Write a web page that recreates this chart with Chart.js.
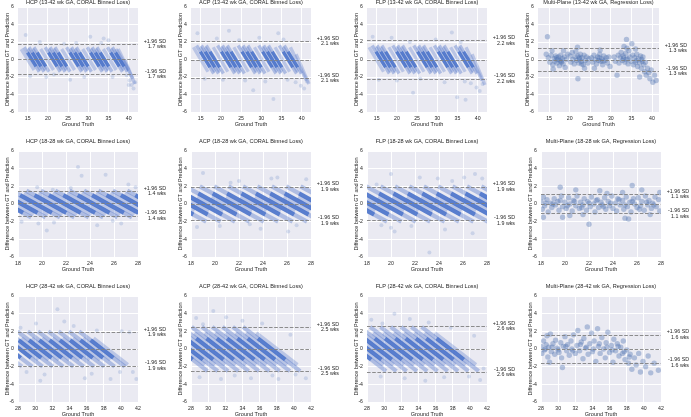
<!DOCTYPE html>
<html>
<head>
<meta charset="utf-8">
<script src="https://cdn.jsdelivr.net/npm/chart.js@4.4.1/dist/chart.umd.min.js"></script>
<style>
  html, body { margin: 0; padding: 0; background: #fff; }
  #fig { position: relative; width: 691px; height: 417px; overflow: hidden; }
  #fig canvas { position: absolute; }
</style>
</head>
<body>
<div id="fig"></div>
<script>
// ---- axis ticks ----
const yTicks = [-6, -4, -2, 0, 2, 4, 6];
const xTicksFull = [15, 20, 25, 30, 35, 40];
const xTicksMid = [18, 20, 22, 24, 26, 28];
const xTicksLate = [28, 30, 32, 34, 36, 38, 40, 42];

// ---- panel labels and limits of agreement ----
const planes = ['HCP', 'ACP', 'FLP', 'Multi-Plane'];
const gaRanges = ['13-42', '18-28', '28-42'];
const sdWks = [[1.7, 2.1, 2.2, 1.3], [1.4, 1.9, 1.9, 1.1], [1.9, 2.5, 2.6, 1.6]];
const meanDiff = [[0.05, 0, 0, 0], [0.07, 0.05, 0.06, 0.03], [0.03, 0, 0, 0.04]];
const xLimits = [
  [[12.6, 42.3], [12.6, 42.3], [12.6, 42.3], [12.3, 41.7]],
  [[18, 28], [18, 28], [18, 28], [18, 28]],
  [[28, 42], [28, 42], [28, 42], [28, 42]]
];

// ---- CORAL panels: dense diagonal bands of (GT, diff) points, read as runs of points ----
// 13-42 wk
const hcpFullDense = [
  [[14.13,1.4],[14.93,0.8],[17.07,-0.8],[17.87,-1.4]],
  [[15.33,1.4],[16.13,0.8],[18.27,-0.8],[19.07,-1.4]],
  [[16.53,1.4],[17.33,0.8],[19.47,-0.8],[20.27,-1.4]],
  [[19.33,1.4],[20.13,0.8],[22.27,-0.8],[23.07,-1.4]],
  [[20.53,1.4],[21.33,0.8],[23.47,-0.8],[24.27,-1.4]],
  [[21.73,1.4],[22.53,0.8],[24.67,-0.8],[25.47,-1.4]],
  [[24.63,1.4],[25.43,0.8],[27.57,-0.8],[28.37,-1.4]],
  [[25.83,1.4],[26.63,0.8],[28.77,-0.8],[29.57,-1.4]],
  [[27.03,1.4],[27.83,0.8],[29.97,-0.8],[30.77,-1.4]],
  [[29.73,1.4],[30.53,0.8],[32.67,-0.8],[33.47,-1.4]],
  [[30.93,1.4],[31.73,0.8],[33.87,-0.8],[34.67,-1.4]],
  [[32.13,1.4],[32.93,0.8],[35.07,-0.8],[35.87,-1.4]],
  [[34.73,1.4],[35.53,0.8],[37.67,-0.8],[38.47,-1.4]],
  [[35.93,1.4],[36.73,0.8],[38.87,-0.8],[39.67,-1.4]]
];
const hcpFullLight = [
  [[13.4,1.2],[16.6,-1.2]], [[15.0,1.2],[18.2,-1.2]], [[16.2,1.2],[19.4,-1.2]],
  [[18.2,1.2],[21.4,-1.2]], [[20.2,1.2],[23.4,-1.2]], [[21.4,1.2],[24.6,-1.2]],
  [[23.4,1.2],[26.6,-1.2]], [[25.5,1.2],[28.7,-1.2]], [[26.7,1.2],[29.9,-1.2]],
  [[28.6,1.2],[31.8,-1.2]], [[30.6,1.2],[33.8,-1.2]], [[31.8,1.2],[35.0,-1.2]],
  [[33.7,1.2],[36.9,-1.2]], [[35.6,1.2],[38.8,-1.2]], [[36.8,1.2],[40.0,-1.2]],
  [[37.4,1.2],[41.0,-2.2]], [[39.0,0.0],[41.5,-2.8]]
];
const hcpFullPts = [
  [14.5,2.8],[15.6,-1.9],[18.0,2.0],[19.6,-2.0],[24.0,1.8],[21.5,-1.7],[27.0,1.9],[29.0,-2.0],
  [33.8,2.4],[35.0,2.2],[33.2,1.9],[36.0,-2.0],[39.5,-1.8],[40.2,-2.4],[40.7,-2.9],[41.2,-3.3],
  [40.0,-2.9],[41.6,-2.6],[30.5,2.6],[25.5,-2.3]
];

const acpFullDense = [
  [[13.97,1.6],[14.9,0.9],[17.3,-0.9],[18.23,-1.6]],
  [[15.17,1.6],[16.1,0.9],[18.5,-0.9],[19.43,-1.6]],
  [[16.37,1.6],[17.3,0.9],[19.7,-0.9],[20.63,-1.6]],
  [[19.17,1.6],[20.1,0.9],[22.5,-0.9],[23.43,-1.6]],
  [[20.37,1.6],[21.3,0.9],[23.7,-0.9],[24.63,-1.6]],
  [[21.57,1.6],[22.5,0.9],[24.9,-0.9],[25.83,-1.6]],
  [[24.27,1.6],[25.2,0.9],[27.6,-0.9],[28.53,-1.6]],
  [[25.47,1.6],[26.4,0.9],[28.8,-0.9],[29.73,-1.6]],
  [[26.67,1.6],[27.6,0.9],[30.0,-0.9],[30.93,-1.6]],
  [[29.37,1.6],[30.3,0.9],[32.7,-0.9],[33.63,-1.6]],
  [[30.57,1.6],[31.5,0.9],[33.9,-0.9],[34.83,-1.6]],
  [[31.77,1.6],[32.7,0.9],[35.1,-0.9],[36.03,-1.6]],
  [[34.47,1.6],[35.4,0.9],[37.8,-0.9],[38.73,-1.6]],
  [[35.67,1.6],[36.6,0.9],[39.0,-0.9],[39.93,-1.6]]
];
const acpFullLight = [
  [[13.2,1.4],[16.8,-1.4]], [[14.9,1.4],[18.5,-1.4]], [[16.1,1.4],[19.7,-1.4]],
  [[18.1,1.4],[21.7,-1.4]], [[20.1,1.4],[23.7,-1.4]], [[21.3,1.4],[24.9,-1.4]],
  [[23.2,1.4],[26.8,-1.4]], [[25.2,1.4],[28.8,-1.4]], [[26.4,1.4],[30.0,-1.4]],
  [[28.3,1.4],[31.9,-1.4]], [[30.3,1.4],[33.9,-1.4]], [[31.5,1.4],[35.1,-1.4]],
  [[33.4,1.4],[37.0,-1.4]], [[35.4,1.4],[39.0,-1.4]], [[37.2,1.4],[41.2,-2.4]],
  [[38.6,0.6],[41.8,-2.8]]
];
const acpFullPts = [
  [14.2,3.0],[16.0,-2.2],[19.0,2.4],[20.5,-2.3],[24.5,2.2],[26.0,-2.4],[29.5,2.5],[31.0,-2.5],
  [34.2,3.0],[35.5,2.3],[36.5,-2.3],[38.5,-2.6],[39.8,-3.0],[40.6,-3.3],[41.3,-2.5],[33.0,-4.5],
  [22.0,3.3],[28.0,-3.5]
];

const flpFullDense = [
  [[13.87,1.6],[14.8,0.9],[17.2,-0.9],[18.13,-1.6]],
  [[15.07,1.6],[16.0,0.9],[18.4,-0.9],[19.33,-1.6]],
  [[16.27,1.6],[17.2,0.9],[19.6,-0.9],[20.53,-1.6]],
  [[18.97,1.6],[19.9,0.9],[22.3,-0.9],[23.23,-1.6]],
  [[20.17,1.6],[21.1,0.9],[23.5,-0.9],[24.43,-1.6]],
  [[21.37,1.6],[22.3,0.9],[24.7,-0.9],[25.63,-1.6]],
  [[24.17,1.6],[25.1,0.9],[27.5,-0.9],[28.43,-1.6]],
  [[25.37,1.6],[26.3,0.9],[28.7,-0.9],[29.63,-1.6]],
  [[26.57,1.6],[27.5,0.9],[29.9,-0.9],[30.83,-1.6]],
  [[29.27,1.6],[30.2,0.9],[32.6,-0.9],[33.53,-1.6]],
  [[30.47,1.6],[31.4,0.9],[33.8,-0.9],[34.73,-1.6]],
  [[31.67,1.6],[32.6,0.9],[35.0,-0.9],[35.93,-1.6]],
  [[34.37,1.6],[35.3,0.9],[37.7,-0.9],[38.63,-1.6]],
  [[35.57,1.6],[36.5,0.9],[38.9,-0.9],[39.83,-1.6]]
];
const flpFullLight = [
  [[13.1,1.4],[16.7,-1.4]], [[14.8,1.4],[18.4,-1.4]], [[16.0,1.4],[19.6,-1.4]],
  [[18.0,1.4],[21.6,-1.4]], [[19.9,1.4],[23.5,-1.4]], [[21.1,1.4],[24.7,-1.4]],
  [[23.1,1.4],[26.7,-1.4]], [[25.1,1.4],[28.7,-1.4]], [[26.3,1.4],[29.9,-1.4]],
  [[28.2,1.4],[31.8,-1.4]], [[30.2,1.4],[33.8,-1.4]], [[31.4,1.4],[35.0,-1.4]],
  [[33.3,1.4],[36.9,-1.4]], [[35.3,1.4],[38.9,-1.4]], [[37.1,1.4],[41.1,-2.4]],
  [[38.6,0.6],[41.8,-2.9]]
];
const flpFullPts = [
  [14.0,2.6],[15.5,-2.3],[18.7,2.5],[20.0,-2.4],[23.2,2.0],[25.8,-2.2],[29.6,2.3],[31.8,-2.6],
  [33.6,3.1],[35.8,2.0],[36.8,-2.5],[38.3,-2.7],[39.7,-3.2],[40.5,-3.6],[41.2,-2.8],[34.9,-4.3],
  [24.0,-3.8],[37.0,-4.6]
];

// 18-28 wk
const hcpMidDense = [
  [[15.1,1.5],[15.77,1.0],[18.43,-1.0],[19.1,-1.5]],
  [[16.3,1.5],[16.97,1.0],[19.63,-1.0],[20.3,-1.5]],
  [[17.5,1.5],[18.17,1.0],[20.83,-1.0],[21.5,-1.5]],
  [[18.7,1.5],[19.37,1.0],[22.03,-1.0],[22.7,-1.5]],
  [[19.9,1.5],[20.57,1.0],[23.23,-1.0],[23.9,-1.5]],
  [[21.1,1.5],[21.77,1.0],[24.43,-1.0],[25.1,-1.5]],
  [[22.3,1.5],[22.97,1.0],[25.63,-1.0],[26.3,-1.5]],
  [[23.5,1.5],[24.17,1.0],[26.83,-1.0],[27.5,-1.5]],
  [[24.7,1.5],[25.37,1.0],[28.03,-1.0],[28.7,-1.5]],
  [[25.9,1.5],[26.57,1.0],[29.23,-1.0],[29.9,-1.5]],
  [[27.1,1.5],[27.77,1.0],[30.43,-1.0],[31.1,-1.5]]
];
const hcpMidLight = [
  [[16.1,1.2],[19.3,-1.2]], [[17.3,1.2],[20.5,-1.2]], [[18.5,1.2],[21.7,-1.2]],
  [[19.7,1.2],[22.9,-1.2]], [[20.9,1.2],[24.1,-1.2]], [[22.1,1.2],[25.3,-1.2]],
  [[23.3,1.2],[26.5,-1.2]], [[24.5,1.2],[27.7,-1.2]], [[25.7,1.2],[28.9,-1.2]],
  [[26.9,1.2],[30.1,-1.2]]
];
const hcpMidPts = [
  [19.6,1.9],[20.9,1.6],[23.3,3.2],[25.3,3.3],[23.0,4.2],[27.2,2.2],[21.0,-2.1],[26.6,-2.2],
  [18.3,-2.0],[24.6,-2.4],[19.7,-2.2],[22.4,1.8],[25.9,-1.9],[27.8,1.9],[20.4,-3.0]
];

const acpMidDense = [
  [[13.93,2.0],[15.0,1.2],[18.2,-1.2],[19.27,-2.0]],
  [[15.13,2.0],[16.2,1.2],[19.4,-1.2],[20.47,-2.0]],
  [[16.33,2.0],[17.4,1.2],[20.6,-1.2],[21.67,-2.0]],
  [[17.53,2.0],[18.6,1.2],[21.8,-1.2],[22.87,-2.0]],
  [[18.73,2.0],[19.8,1.2],[23.0,-1.2],[24.07,-2.0]],
  [[19.93,2.0],[21.0,1.2],[24.2,-1.2],[25.27,-2.0]],
  [[21.13,2.0],[22.2,1.2],[25.4,-1.2],[26.47,-2.0]],
  [[22.33,2.0],[23.4,1.2],[26.6,-1.2],[27.67,-2.0]],
  [[23.53,2.0],[24.6,1.2],[27.8,-1.2],[28.87,-2.0]],
  [[24.73,2.0],[25.8,1.2],[29.0,-1.2],[30.07,-2.0]],
  [[25.93,2.0],[27.0,1.2],[30.2,-1.2],[31.27,-2.0]],
  [[27.13,2.0],[28.2,1.2],[31.4,-1.2],[32.47,-2.0]]
];
const acpMidLight = [
  [[16.13,0.8],[18.27,-0.8]], [[17.33,0.8],[19.47,-0.8]], [[18.53,0.8],[20.67,-0.8]],
  [[19.73,0.8],[21.87,-0.8]], [[20.93,0.8],[23.07,-0.8]], [[22.13,0.8],[24.27,-0.8]],
  [[23.33,0.8],[25.47,-0.8]], [[24.53,0.8],[26.67,-0.8]], [[25.73,0.8],[27.87,-0.8]],
  [[26.93,0.8],[29.07,-0.8]], [[28.13,0.8],[30.27,-0.8]]
];
const acpMidPts = [
  [19.0,3.5],[20.4,-2.5],[22.0,2.6],[23.8,-2.8],[25.2,3.0],[26.8,-2.4],[27.6,2.8],[18.5,-2.6],
  [21.3,2.4],[24.7,2.9],[26.1,-3.1],[22.9,-2.3]
];

const flpMidDense = [
  [[14.33,2.0],[15.4,1.2],[18.6,-1.2],[19.67,-2.0]],
  [[15.53,2.0],[16.6,1.2],[19.8,-1.2],[20.87,-2.0]],
  [[16.73,2.0],[17.8,1.2],[21.0,-1.2],[22.07,-2.0]],
  [[17.93,2.0],[19.0,1.2],[22.2,-1.2],[23.27,-2.0]],
  [[19.13,2.0],[20.2,1.2],[23.4,-1.2],[24.47,-2.0]],
  [[20.33,2.0],[21.4,1.2],[24.6,-1.2],[25.67,-2.0]],
  [[21.53,2.0],[22.6,1.2],[25.8,-1.2],[26.87,-2.0]],
  [[22.73,2.0],[23.8,1.2],[27.0,-1.2],[28.07,-2.0]],
  [[23.93,2.0],[25.0,1.2],[28.2,-1.2],[29.27,-2.0]],
  [[25.13,2.0],[26.2,1.2],[29.4,-1.2],[30.47,-2.0]],
  [[26.33,2.0],[27.4,1.2],[30.6,-1.2],[31.67,-2.0]],
  [[27.53,2.0],[28.6,1.2],[31.8,-1.2],[32.87,-2.0]]
];
const flpMidLight = [
  [[16.53,0.8],[18.67,-0.8]], [[17.73,0.8],[19.87,-0.8]], [[18.93,0.8],[21.07,-0.8]],
  [[20.13,0.8],[22.27,-0.8]], [[21.33,0.8],[23.47,-0.8]], [[22.53,0.8],[24.67,-0.8]],
  [[23.73,0.8],[25.87,-0.8]], [[24.93,0.8],[27.07,-0.8]], [[26.13,0.8],[28.27,-0.8]],
  [[27.33,0.8],[29.47,-0.8]]
];
const flpMidPts = [
  [20.0,3.4],[22.4,3.0],[23.9,2.9],[26.1,3.0],[27.0,3.4],[27.6,2.9],[19.2,-2.4],[20.3,-3.1],
  [20.0,-2.7],[24.5,-2.9],[26.8,-3.3],[23.2,-5.5],[21.7,-2.5],[18.8,2.2],[25.1,2.6]
];

// 28-42 wk
const hcpLateDense = [
  [[24.33,2.0],[25.67,1.0],[28.33,-1.0],[29.67,-2.0]],
  [[25.53,2.0],[26.87,1.0],[29.53,-1.0],[30.87,-2.0]],
  [[26.73,2.0],[28.07,1.0],[30.73,-1.0],[32.07,-2.0]],
  [[27.93,2.0],[29.27,1.0],[31.93,-1.0],[33.27,-2.0]],
  [[29.13,2.0],[30.47,1.0],[33.13,-1.0],[34.47,-2.0]],
  [[30.33,2.0],[31.67,1.0],[34.33,-1.0],[35.67,-2.0]],
  [[31.53,2.0],[32.87,1.0],[35.53,-1.0],[36.87,-2.0]],
  [[32.73,2.0],[34.07,1.0],[36.73,-1.0],[38.07,-2.0]],
  [[33.93,2.0],[35.27,1.0],[37.93,-1.0],[39.27,-2.0]],
  [[35.13,2.0],[36.47,1.0],[39.13,-1.0],[40.47,-2.0]]
];
const hcpLateLight = [
  [[23.13,2.0],[28.47,-2.0]], [[27.2,1.2],[30.4,-1.2]], [[28.4,1.2],[31.6,-1.2]],
  [[29.6,1.2],[32.8,-1.2]], [[30.8,1.2],[34.0,-1.2]], [[32.0,1.2],[35.2,-1.2]],
  [[33.2,1.2],[36.4,-1.2]], [[34.4,1.2],[37.6,-1.2]], [[35.6,1.2],[38.8,-1.2]],
  [[36.8,1.2],[40.8,-1.8]]
];
const hcpLatePts = [
  [28.3,2.4],[29.0,-2.6],[30.1,2.9],[31.1,-2.9],[32.6,4.5],[33.4,3.1],[34.5,2.6],[35.8,-3.3],
  [36.6,-2.8],[38.8,-3.4],[40.1,2.0],[41.0,1.9],[41.4,-2.6],[41.8,-3.4],[39.9,-2.6],[37.2,2.1],
  [30.6,-3.6]
];

const acpLateDense = [
  [[23.27,2.5],[25.0,1.2],[28.2,-1.2],[29.93,-2.5]],
  [[24.47,2.5],[26.2,1.2],[29.4,-1.2],[31.13,-2.5]],
  [[25.67,2.5],[27.4,1.2],[30.6,-1.2],[32.33,-2.5]],
  [[26.87,2.5],[28.6,1.2],[31.8,-1.2],[33.53,-2.5]],
  [[28.07,2.5],[29.8,1.2],[33.0,-1.2],[34.73,-2.5]],
  [[29.27,2.5],[31.0,1.2],[34.2,-1.2],[35.93,-2.5]],
  [[30.47,2.5],[32.2,1.2],[35.4,-1.2],[37.13,-2.5]],
  [[31.67,2.5],[33.4,1.2],[36.6,-1.2],[38.33,-2.5]],
  [[32.87,2.5],[34.6,1.2],[37.8,-1.2],[39.53,-2.5]],
  [[34.07,2.5],[35.8,1.2],[39.0,-1.2],[40.73,-2.5]]
];
const acpLateLight = [
  [[24.8,1.8],[29.6,-1.8]], [[26.0,1.8],[30.8,-1.8]], [[27.2,1.8],[32.0,-1.8]],
  [[28.4,1.8],[33.2,-1.8]], [[29.6,1.8],[34.4,-1.8]], [[30.8,1.8],[35.6,-1.8]],
  [[32.0,1.8],[36.8,-1.8]], [[33.2,1.8],[38.0,-1.8]], [[34.4,1.8],[39.2,-1.8]],
  [[35.6,1.8],[40.4,-1.8]]
];
const acpLatePts = [
  [28.6,3.5],[29.4,2.8],[30.6,4.3],[32.1,3.6],[34.0,3.2],[36.3,2.9],[29.0,-3.2],[31.5,-3.4],
  [35.0,-3.3],[38.2,-3.4],[40.2,-2.9],[41.4,-3.3],[39.6,1.6],[37.5,-3.0],[33.1,-3.0]
];

const flpLateDense = [
  [[23.57,2.5],[25.3,1.2],[28.5,-1.2],[30.23,-2.5]],
  [[24.77,2.5],[26.5,1.2],[29.7,-1.2],[31.43,-2.5]],
  [[25.97,2.5],[27.7,1.2],[30.9,-1.2],[32.63,-2.5]],
  [[27.17,2.5],[28.9,1.2],[32.1,-1.2],[33.83,-2.5]],
  [[28.37,2.5],[30.1,1.2],[33.3,-1.2],[35.03,-2.5]],
  [[29.57,2.5],[31.3,1.2],[34.5,-1.2],[36.23,-2.5]],
  [[30.77,2.5],[32.5,1.2],[35.7,-1.2],[37.43,-2.5]],
  [[31.97,2.5],[33.7,1.2],[36.9,-1.2],[38.63,-2.5]],
  [[33.17,2.5],[34.9,1.2],[38.1,-1.2],[39.83,-2.5]],
  [[34.37,2.5],[36.1,1.2],[39.3,-1.2],[41.03,-2.5]]
];
const flpLateLight = [
  [[25.1,1.8],[29.9,-1.8]], [[26.3,1.8],[31.1,-1.8]], [[27.5,1.8],[32.3,-1.8]],
  [[28.7,1.8],[33.5,-1.8]], [[29.9,1.8],[34.7,-1.8]], [[31.1,1.8],[35.9,-1.8]],
  [[32.3,1.8],[37.1,-1.8]], [[33.5,1.8],[38.3,-1.8]], [[34.7,1.8],[39.5,-1.8]],
  [[35.9,1.8],[40.7,-1.8]]
];
const flpLatePts = [
  [28.5,3.3],[29.8,2.9],[31.2,4.0],[33.0,3.4],[35.2,3.0],[37.8,2.4],[29.6,-3.1],[32.4,-3.3],
  [34.8,-3.6],[37.0,-3.2],[39.9,-3.1],[41.2,-3.5],[40.5,1.5],[41.6,-2.2]
];

// ---- Multi-Plane (regression) panels: scattered points ----
const mpFullPts = [
  [14.3,0.6],[14.6,2.6],[14.8,0.2],[15.2,-0.3],[15.5,0.5],[15.7,1.0],[15.9,-0.6],[16.2,0.1],
  [16.4,-0.2],[16.6,0.4],[16.9,-0.4],[17.1,0.0],[17.3,0.3],[17.5,-0.7],[17.6,-0.1],[17.8,0.5],
  [18.0,-0.3],[18.2,0.1],[18.4,-0.5],[18.7,0.3],[18.9,-0.9],[19.2,0.0],[19.5,0.6],[16.0,-1.1],
  [18.5,1.0],[20.1,0.4],[20.3,-0.3],[20.6,0.8],[20.8,0.0],[21.1,-0.5],[21.3,0.3],[21.5,0.9],
  [21.7,-0.1],[22.0,0.4],[22.2,-0.4],[22.4,0.1],[22.6,0.6],[22.8,-0.2],[23.0,0.2],[23.3,-0.6],
  [23.5,0.5],[23.8,-0.1],[24.1,0.3],[24.4,-0.4],[24.7,0.1],[22.0,-2.2],[21.9,1.4],[23.6,-1.0],
  [25.3,0.2],[25.6,-0.3],[25.9,0.5],[26.2,0.0],[26.5,-0.5],[26.8,0.3],[27.0,-0.1],[27.3,0.6],
  [27.5,-0.2],[27.8,0.1],[28.0,-0.6],[28.3,0.4],[28.6,-0.1],[28.9,0.2],[29.2,-0.4],[29.5,0.3],
  [29.8,-0.8],[27.4,1.1],[26.0,-1.0],[30.8,0.3],[31.1,-0.2],[31.5,-1.8],[31.8,0.5],[32.0,-0.4],
  [32.3,0.2],[32.5,0.8],[32.8,-0.1],[33.0,0.4],[33.2,1.5],[33.4,-0.3],[33.6,0.7],[33.8,2.3],
  [34.0,0.1],[34.2,-0.5],[34.4,1.0],[34.6,0.3],[34.9,-0.2],[35.1,1.8],[35.3,0.5],[35.5,-0.6],
  [33.9,1.3],[35.8,0.2],[36.0,-0.3],[36.3,0.6],[36.5,-0.8],[36.7,0.1],[37.0,-0.4],[37.2,0.4],
  [37.4,-1.0],[37.6,-0.2],[37.8,0.3],[38.0,-0.6],[38.2,-1.4],[38.4,-0.3],[38.6,-1.8],[38.9,-1.0],
  [39.2,-1.5],[39.5,-2.2],[39.8,-1.2],[40.2,-2.6],[40.6,-1.8],[41.0,-2.4],[37.0,-2.0],[36.0,1.2],
  [16.8,0.2],[17.9,-0.2],[22.3,0.2],[22.9,-0.5],[27.2,0.2],[28.1,-0.2],[33.1,0.2],[33.7,0.0],
  [37.5,0.0],[36.2,-0.1]
];
const mpMidPts = [
  [18.0,0.3],[18.1,-0.6],[18.2,0.8],[18.3,-0.2],[18.5,0.5],[18.6,-0.9],[18.8,0.1],[18.9,-0.4],
  [19.1,0.6],[19.2,-0.1],[19.4,0.3],[19.5,-0.7],[19.7,0.9],[19.8,-0.3],[20.0,0.2],[20.1,-0.5],
  [20.3,0.7],[20.4,0.0],[20.6,-0.8],[20.7,0.4],[20.9,-0.2],[21.0,0.9],[21.2,-0.5],[21.3,0.2],
  [21.5,-0.1],[21.6,0.6],[21.8,-0.7],[21.9,0.3],[22.1,-0.3],[22.2,0.8],[22.4,0.0],[22.5,-0.9],
  [22.7,0.5],[22.8,-0.4],[23.0,0.2],[23.1,-0.1],[23.3,0.7],[23.4,-0.6],[23.6,0.3],[23.7,-0.2],
  [23.9,0.9],[24.0,-0.5],[24.2,0.1],[24.3,-0.8],[24.5,0.5],[24.6,-0.1],[24.8,0.4],[24.9,-0.6],
  [25.1,0.8],[25.2,-0.3],[25.4,0.2],[25.5,-0.9],[25.7,0.6],[25.8,0.0],[26.0,-0.4],[26.1,0.7],
  [26.3,-0.2],[26.4,0.3],[26.6,-0.7],[26.7,0.9],[26.9,-0.1],[27.0,0.4],[27.2,-0.5],[27.3,0.1],
  [27.5,0.8],[27.6,-0.3],[27.8,0.5],[27.9,-0.8],[18.4,0.1],[19.0,0.0],[19.6,0.4],[20.2,-0.2],
  [20.8,0.3],[21.4,-0.4],[22.0,0.1],[22.6,0.4],[23.2,-0.3],[23.8,0.1],[24.4,0.6],[25.0,-0.1],
  [25.6,0.3],[26.2,-0.6],[26.8,0.2],[27.4,-0.1],[19.6,1.9],[19.8,-1.5],[20.9,1.6],[22.0,-2.3],
  [25.6,2.1],[25.0,-1.6],[25.3,-1.7],[26.4,1.6],[22.9,1.5],[27.9,1.3],[18.2,-1.5],[20.4,-1.3],
  [23.5,1.2],[24.8,1.3],[21.5,-1.2],[27.1,-1.2]
];
const mpLatePts = [
  [28.0,0.3],[28.1,-0.5],[28.3,0.9],[28.4,-0.1],[28.6,0.5],[28.8,-0.9],[28.9,0.2],[29.1,1.7],
  [29.2,-0.3],[29.4,0.6],[29.6,-0.6],[29.7,1.0],[29.9,0.1],[30.1,-0.4],[30.3,0.7],[30.4,-1.0],
  [30.6,0.3],[30.8,1.4],[31.0,-0.2],[31.1,0.5],[31.3,-0.7],[31.5,0.9],[31.6,0.0],[31.8,1.6],
  [32.0,-0.5],[32.2,0.4],[32.3,2.1],[32.5,-0.2],[32.7,0.8],[32.9,-1.1],[33.0,1.2],[33.2,0.1],
  [33.4,2.5],[33.5,-0.6],[33.7,0.6],[33.9,1.8],[34.0,-0.3],[34.2,0.9],[34.4,-1.4],[34.6,2.3],
  [34.7,0.3],[34.9,-0.5],[35.1,1.3],[35.3,0.0],[35.5,-1.0],[35.6,0.7],[35.8,1.9],[36.0,-0.4],
  [36.2,0.4],[36.4,-1.5],[36.5,1.1],[36.7,-0.2],[36.9,0.6],[37.1,-0.8],[37.3,0.2],[37.5,-0.5],
  [37.6,0.9],[37.8,-1.2],[38.0,-0.1],[38.2,-1.6],[38.4,-0.6],[38.6,-2.3],[38.9,-1.0],[39.1,-1.8],
  [39.4,-0.5],[39.6,-2.6],[39.9,-1.4],[40.2,-2.0],[40.5,-0.8],[40.8,-2.7],[41.2,-1.6],[41.7,-2.4],
  [30.5,-2.1],[29.0,-1.5],[28.7,1.5],[28.5,0.0],[29.3,0.2],[30.0,-0.1],[30.9,0.3],[31.7,-0.2],
  [32.6,0.5],[33.3,0.2],[34.1,0.0],[34.8,0.6],[35.7,0.2],[36.3,-0.1],[37.0,0.3],[37.7,-0.3],
  [38.3,-0.9]
];

const panelData = [
  [hcpFullDense, hcpFullLight, hcpFullPts], [acpFullDense, acpFullLight, acpFullPts],
  [flpFullDense, flpFullLight, flpFullPts], [[], [], mpFullPts],
  [hcpMidDense, hcpMidLight, hcpMidPts], [acpMidDense, acpMidLight, acpMidPts],
  [flpMidDense, flpMidLight, flpMidPts], [[], [], mpMidPts],
  [hcpLateDense, hcpLateLight, hcpLatePts], [acpLateDense, acpLateLight, acpLatePts],
  [flpLateDense, flpLateLight, flpLatePts], [[], [], mpLatePts]
];
const xTickSets = [xTicksFull, xTicksMid, xTicksLate];

// ---- layout (page pixels of each plot area) ----
const rowTop = [7, 151, 296];
const rowBottom = [112, 257, 402];
const titleGap = [4.2, 9.5, 9.5];
const colLeft = [[18, 191, 367, 538], [18, 191, 367, 541], [18, 191, 367, 541]];
const colRight = [[138, 311, 487, 659], [138, 311, 487, 661], [138, 311, 487, 661]];
const stripeWidth = [3.4, 4.4, 4.2];

const font = '"Liberation Sans", Arial, sans-serif';
const ink = '#262626';
const stripeCore = 'rgba(68,110,200,0.88)';
const stripeEdge = 'rgba(76,114,200,0.38)';
const stripeFaint = 'rgba(76,114,200,0.3)';
const scatterFaint = 'rgba(76,114,190,0.2)';
const mpColor = 'rgba(76,114,176,0.38)';

const decor = {
  id: 'decor',
  beforeDraw(chart, args, o) {
    const { ctx, chartArea: a } = chart;
    ctx.save();
    ctx.fillStyle = '#EAEAF2';
    ctx.fillRect(a.left, a.top, a.width, a.height);
    ctx.restore();
  },
  afterDatasetsDraw(chart, args, o) {
    const { ctx, chartArea: a } = chart;
    const y = chart.scales.y;
    ctx.save();
    ctx.beginPath();
    ctx.rect(a.left, a.top, a.width, a.height);
    ctx.clip();
    ctx.strokeStyle = '#808080';
    ctx.lineWidth = 0.9;
    ctx.setLineDash([3.6, 1.6]);
    [o.mean + o.sd, o.mean, o.mean - o.sd].forEach(v => {
      const py = Math.round(y.getPixelForValue(v)) + 0.5;
      ctx.beginPath();
      ctx.moveTo(a.left, py);
      ctx.lineTo(a.right, py);
      ctx.stroke();
    });
    ctx.restore();
  },
  afterDraw(chart, args, o) {
    const { ctx, chartArea: a } = chart;
    const y = chart.scales.y;
    const cx = (a.left + a.right) / 2;
    ctx.save();
    ctx.fillStyle = ink;
    ctx.textBaseline = 'middle';
    ctx.textAlign = 'center';
    ctx.font = '5.6px ' + font;
    ctx.fillText(o.title, cx, a.top - o.titleGap);
    ctx.font = '5.5px ' + font;
    ctx.fillText('Ground Truth', cx, a.bottom + 12.7);
    ctx.save();
    ctx.translate(a.left - 10.5, (a.top + a.bottom) / 2);
    ctx.rotate(-Math.PI / 2);
    ctx.fillText('Difference between GT and Prediction', 0, 0);
    ctx.restore();
    ctx.textAlign = 'right';
    ctx.font = '5.3px ' + font;
    const up = y.getPixelForValue(o.mean + o.sd);
    const lo = y.getPixelForValue(o.mean - o.sd);
    const tx = a.right + 28;
    const wk = o.sd.toFixed(1) + ' wks';
    ctx.fillText('+1.96 SD', tx, up - 2.8);
    ctx.fillText(wk, tx, up + 2.8);
    ctx.fillText('-1.96 SD', tx, lo - 2.8);
    ctx.fillText(wk, tx, lo + 2.8);
    ctx.restore();
  }
};

const fig = document.getElementById('fig');

for (let r = 0; r < 3; r++) {
  for (let c = 0; c < 4; c++) {
    const k = r * 4 + c;
    const L = colLeft[r][c], R = colRight[r][c], T = rowTop[r], B = rowBottom[r];
    const w = R - L + 54, h = B - T + 31;
    const cv = document.createElement('canvas');
    cv.width = w; cv.height = h;
    cv.style.width = w + 'px'; cv.style.height = h + 'px';
    cv.style.left = (L - 20) + 'px';
    cv.style.top = (T - 14) + 'px';
    fig.appendChild(cv);

    const [dense, light, pts] = panelData[k];
    const sets = [];
    dense.forEach(s => sets.push({
      data: s.map(p => ({ x: p[0], y: p[1] })),
      borderWidth: stripeWidth[r],
      borderColor: stripeCore,
      segment: { borderColor: ctx => ctx.p0DataIndex === 1 ? stripeCore : stripeEdge },
      pointRadius: 0,
      clip: 0
    }));
    light.forEach(s => sets.push({
      data: s.map(p => ({ x: p[0], y: p[1] })),
      borderWidth: stripeWidth[r],
      borderColor: stripeFaint,
      pointRadius: 0,
      clip: 0
    }));
    const isMP = c === 3;
    sets.push({
      data: pts.map(p => ({ x: p[0], y: p[1] })),
      showLine: false,
      pointRadius: isMP ? 2.7 : 2,
      pointBackgroundColor: isMP ? mpColor : scatterFaint,
      pointBorderWidth: 0,
      pointHoverRadius: 0,
      clip: 0
    });

    const title = planes[c] + ' (' + gaRanges[r] + ' wk GA, ' +
      (isMP ? 'Regression' : 'CORAL Binned') + ' Loss)';
    const xt = xTickSets[r];

    new Chart(cv, {
      type: 'line',
      data: { datasets: sets },
      options: {
        responsive: false,
        animation: false,
        events: [],
        devicePixelRatio: 1,
        layout: { padding: { top: 14, right: 34, bottom: 6, left: 0 } },
        plugins: {
          legend: { display: false },
          tooltip: { enabled: false },
          decor: { mean: meanDiff[r][c], sd: sdWks[r][c], title: title, titleGap: titleGap[r] }
        },
        scales: {
          x: {
            type: 'linear',
            min: xLimits[r][c][0],
            max: xLimits[r][c][1],
            afterBuildTicks: s => { s.ticks = xt.map(v => ({ value: v })); },
            afterFit: s => { s.height = 11; s.paddingLeft = 0; s.paddingRight = 0; },
            grid: { color: '#ffffff', lineWidth: 1, drawTicks: false },
            border: { display: false },
            ticks: { color: ink, font: { family: font, size: 5.2 }, padding: 3, maxRotation: 0, autoSkip: false }
          },
          y: {
            type: 'linear',
            min: -6,
            max: 6,
            afterBuildTicks: s => { s.ticks = yTicks.map(v => ({ value: v })); },
            afterFit: s => { s.width = 20; s.paddingTop = 0; s.paddingBottom = 0; },
            grid: { color: '#ffffff', lineWidth: 1, drawTicks: false },
            border: { display: false },
            ticks: { color: ink, font: { family: font, size: 5.2 }, padding: 4 }
          }
        }
      },
      plugins: [decor]
    });
  }
}
</script>
</body>
</html>
